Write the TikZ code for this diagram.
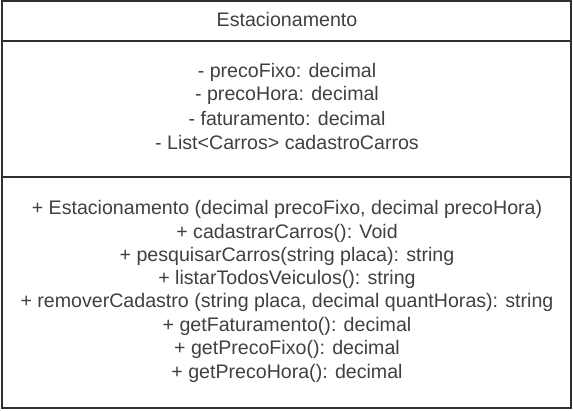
\documentclass[tikz,border=0pt]{standalone}
\usepackage{fontspec}
\setmainfont{Liberation Sans}
\definecolor{linegray}{HTML}{2F2F2F}
\definecolor{textgray}{HTML}{404040}
\begin{document}
\begin{tikzpicture}[x=1pt,y=-1pt,
  frame/.style={draw=linegray,line width=2.2pt},
  member/.style={text=textgray,font=\fontsize{19.6}{22}\selectfont,inner sep=0pt,anchor=center}]
\useasboundingbox (0,0) rectangle (573,410);
% class box with its three compartments
\draw[frame] (2,1) rectangle (571,408);
\coordinate (d1l) at (2,41);  \coordinate (d1r) at (571,41);
\coordinate (d2l) at (2,177); \coordinate (d2r) at (571,177);
\draw[frame] (d1l) -- (d1r);
\draw[frame] (d2l) -- (d2r);
% class name
\node[member] (name) at (287,19) {Estacionamento};
% attributes
\node[member] (a1) at (287,72)  {- precoFixo: decimal};
\node[member] (a2) at (287,95)  {- precoHora: decimal};
\node[member] (a3) at (287,118) {- faturamento: decimal};
\node[member] (a4) at (287,142) {- List<Carros> cadastroCarros};
% operations
\node[member] (m1) at (287,209) {+ Estacionamento (decimal precoFixo, decimal precoHora)};
\node[member] (m2) at (287,233) {+ cadastrarCarros(): Void};
\node[member] (m3) at (287,256) {+ pesquisarCarros(string placa): string};
\node[member] (m4) at (287,279) {+ listarTodosVeiculos(): string};
\node[member] (m5) at (287,302) {+ removerCadastro (string placa, decimal quantHoras): string};
\node[member] (m6) at (287,326) {+ getFaturamento(): decimal};
\node[member] (m7) at (287,349) {+ getPrecoFixo(): decimal};
\node[member] (m8) at (287,373) {+ getPrecoHora(): decimal};
\end{tikzpicture}
\end{document}
